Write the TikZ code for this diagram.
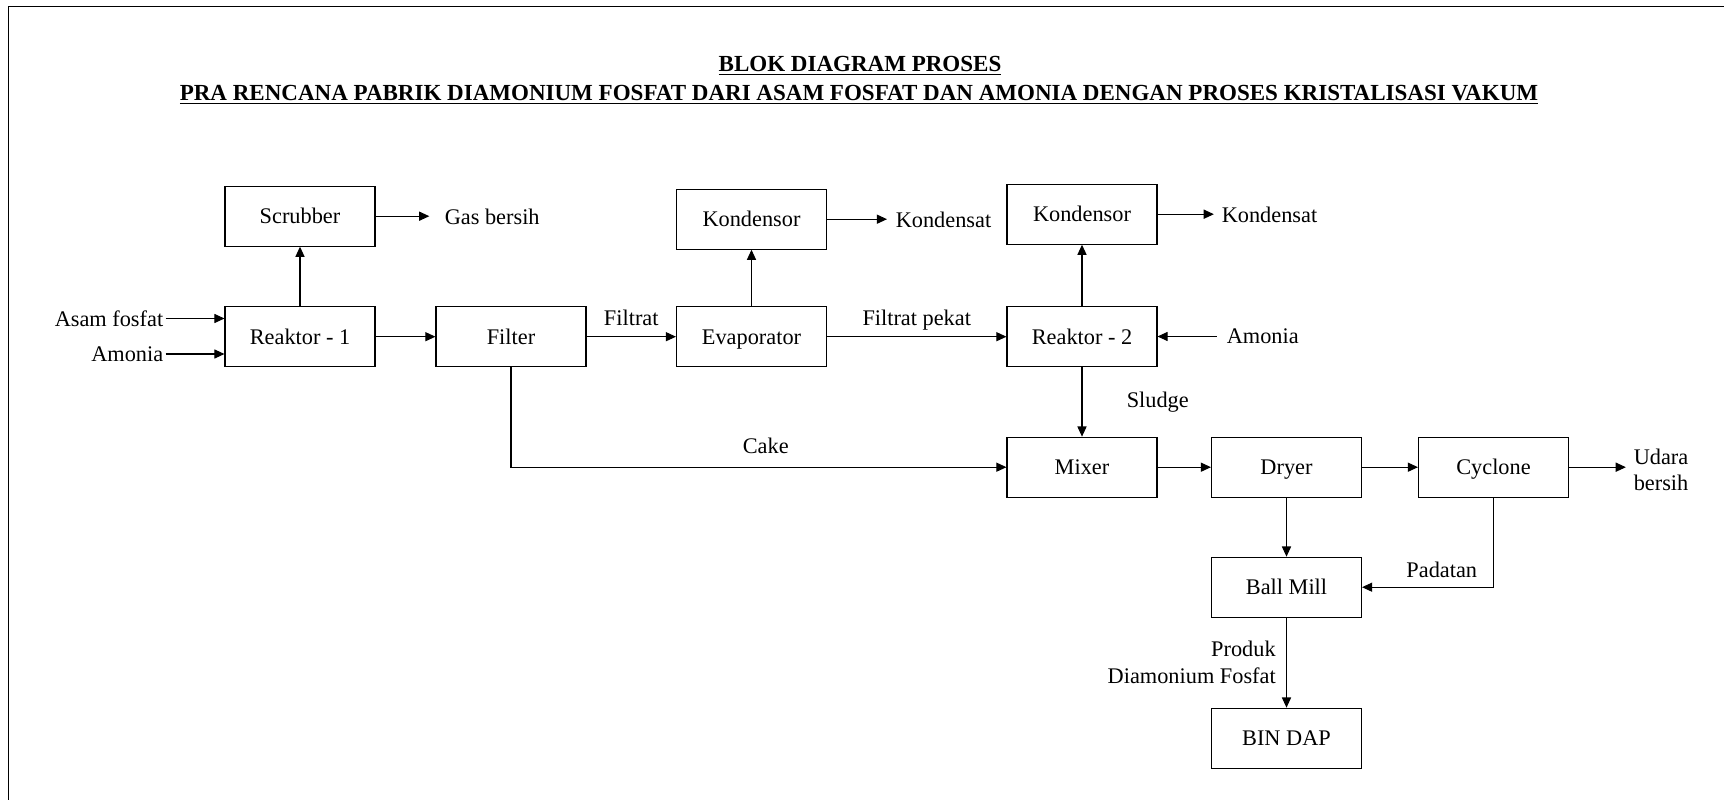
\documentclass[tikz,border=0pt]{standalone}
\usepackage{fontspec}
\setmainfont{Liberation Serif}
\usepackage{tikz}
\usetikzlibrary{arrows.meta}

\begin{document}
\begin{tikzpicture}[>={Triangle[length=5.8pt,width=5.2pt]}, semithick,
	font=\fontsize{12.7}{15.2}\selectfont,
	blok/.style={draw, minimum width=3cm, minimum height=1.2cm, inner sep=0pt, text height=0.84em, text depth=0pt},
	ket/.style={inner sep=1pt}]
				\useasboundingbox (0,0) rectangle (34.48,-16);
				\draw[thin] (0.16,-16) |- (34.48,-0.12);

				% judul
				\node[anchor=base, font=\fontsize{13.1}{15.2}\selectfont] (T1) at (17.20,-1.43) {\textbf{\underline{BLOK DIAGRAM PROSES}}};
				\node[anchor=base, font=\fontsize{13.1}{15.2}\selectfont] (T2) at (17.18,-2.01) {\textbf{\underline{PRA RENCANA PABRIK DIAMONIUM FOSFAT DARI ASAM FOSFAT DAN AMONIA DENGAN PROSES KRISTALISASI VAKUM}}};

				\node[blok] (R1) at (6.00,-6.734) {Reaktor - 1};
				\node[blok] (S)  [above of=R1, node distance=2.41cm] {Scrubber};
				\node[blok] (F)  [right of=R1, node distance=4.22cm] {Filter};
				\node[blok] (E)  [right of=F, node distance=4.81cm] {Evaporator};
				\node[blok] (K1) [above of=E, node distance=2.35cm] {Kondensor};
				\node[blok] (R2) [right of=E, node distance=6.61cm] {Reaktor - 2};
				\node[blok] (K2) [above of=R2, node distance=2.45cm] {Kondensor};
				\node[blok] (M)  [below of=R2, node distance=2.61cm] {Mixer};
				\node[blok] (D)  [right of=M, node distance=4.09cm] {Dryer};
				\node[blok] (C)  [right of=D, node distance=4.14cm] {Cyclone};
				\node[blok] (B)  [below of=D, node distance=2.40cm] {Ball Mill};
				\node[blok] (BD) [below of=B, node distance=3.02cm] {BIN DAP};

				\node[ket, anchor=east] (af)  at (3.31,-6.37) {Asam fosfat};
				\node[ket, anchor=east] (am1) at (3.31,-7.08) {Amonia};
				\node[ket, anchor=west] (gb)  at (8.85,-4.33) {Gas bersih};
				\node[ket, anchor=west] (kd1) at (17.87,-4.40) {Kondensat};
				\node[ket, anchor=west] (kd2) at (24.39,-4.30) {Kondensat};
				\node[ket, anchor=west] (am2) at (24.49,-6.73) {Amonia};
				\node[ket, anchor=west, align=left] (ud) at (32.63,-9.40) {Udara\\bersih};

				\draw[->] (af) -- (af -| R1.west);
				\draw[->] (am1) -- (am1 -| R1.west);
				\draw[->] (R1) -- (S);
				\draw[->, shorten >=7.5pt] (S.east) -- (S.east -| gb.west);
				\draw[->] (R1) -- (F);
				\draw[->] (F) -- node[ket, anchor=base, yshift=0.22cm] (lf) {Filtrat} (E);
				\draw[->] (E) -- (K1);
				\draw[->, shorten >=3.7pt] (K1.east) -- (K1.east -| kd1.west);
				\draw[->] (E) -- node[ket, anchor=base, yshift=0.22cm] (lfp) {Filtrat pekat} (R2);
				\draw[->] (R2) -- (K2);
				\draw[->, shorten >=3.2pt] (K2.east) -- (K2.east -| kd2.west);
				\draw[->, shorten <=4.5pt] (am2.west) -- (am2.west -| R2.east);
				\draw[->] (R2) -- node[ket, right, xshift=0.85cm] (ls) {Sludge} (M);
				\draw[->] (F) |- node[ket, pos=0.75, anchor=base, yshift=0.28cm, xshift=0.14cm] (lc) {Cake} (M);
				\draw[->] (M) -- (D);
				\draw[->] (D) -- (C);
				\draw[->, shorten >=3.2pt] (C.east) -- (C.east -| ud.west);
				\draw[->] (D) -- (B);
				\draw[->] (C) |- node[ket, pos=0.75, anchor=base, yshift=0.19cm, xshift=0.28cm] (lp) {Padatan} (B);
				\draw[->] (B) -- node[ket, left, align=right, xshift=-0.17cm] (lpr) {Produk\\Diamonium Fosfat} (BD);

			\end{tikzpicture}
\end{document}
